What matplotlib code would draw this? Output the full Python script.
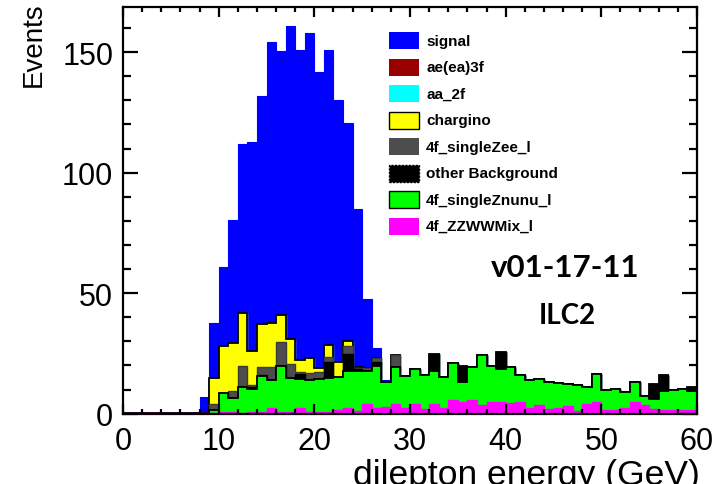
import numpy as np
import matplotlib
matplotlib.use("Agg")
import matplotlib.pyplot as plt
from matplotlib.patches import Rectangle
from matplotlib.ticker import MultipleLocator

plt.rcParams["font.family"] = ["Liberation Sans", "DejaVu Sans"]

# 1 GeV bins from 0 to 60 GeV
bin_edges = np.linspace(0, 60, 61)

signal = [0, 0, 0, 0, 0, 0, 0, 0,
          6.8, 23.0, 32.7, 51.3, 70.4, 86.7, 94.8, 116.4, 109.6, 130.0,
          128.7, 134.8, 122.7, 122.5, 108.7, 90.6, 65.3, 28.9, 4.3, 0.8,
          0, 0, 0, 0, 0, 0, 0, 0, 0, 0, 0, 0, 0, 0, 0, 0, 0, 0, 0, 0,
          0, 0, 0, 0, 0, 0, 0, 0, 0, 0, 0, 0]

ae_ea_3f = [0] * 60
aa_2f = [0] * 60

chargino = [0, 0, 0, 0, 0, 0, 0, 0, 0,
            10.8, 19.8, 19.9, 21.7, 14.2, 18.0, 18.2, 11.0, 10.4, 4.9,
            6.3, 1.9, 5.0, 6.1, 2.0, 0.5,
            0, 0, 0, 0, 0, 0, 0, 0, 0, 0, 0, 0, 0, 0, 0, 0, 0, 0, 0, 0,
            0, 0, 0, 0, 0, 0, 0, 0, 0, 0, 0, 0, 0, 0, 0]

single_zee = [0, 0, 0, 0, 0, 0, 0, 0, 0,
              2.5, 0, 2.7, 9.0, 0.9, 3.2, 5.6, 10.0, 5.8, 1.1, 2.9,
              2.8, 2.1, 0, 3.3, 0.4, 1.2, 1.4, 0, 5.1,
              0, 0, 0, 0, 0, 0, 0, 0, 0, 0, 0, 0, 0, 0, 0, 0,
              0, 0, 0, 0, 0, 0, 0, 0, 0, 0, 0, 0, 0, 0, 0]

other_bkg = [0, 0, 0, 0, 0, 0, 0, 0, 0, 0, 0, 0, 0,
             0.8, 0.5, 0, 0, 0, 1.9, 0, 0, 6.5, 0, 6.9, 0.8, 0, 1.7,
             0, 0, 0, 0, 0, 7.2, 0, 0, 6.6, 0, 0, 0, 7.1,
             0, 0, 0, 0, 0, 0, 0, 0, 0, 0, 0, 0, 0, 0, 0,
             6.4, 6.5, 0, 0, 1.7]

single_znunu = [0, 0, 0, 0, 0, 0, 0, 0, 0,
                1.1, 7.9, 6.1, 10.5, 9.7, 15.0, 11.3, 19.4, 14.3, 11.9,
                13.5, 13.6, 14.1, 13.7, 15.6, 16.8, 13.6, 17.7, 10.4, 15.2,
                13.2, 14.5, 14.1, 13.6, 13.0, 15.5, 8.0, 13.8, 20.9, 14.9,
                13.7, 15.0, 11.4, 11.3, 10.8, 11.2, 10.4, 9.3, 10.5, 6.7,
                11.8, 8.4, 8.7, 6.6, 8.5, 3.7, 4.1, 7.9, 8.3, 8.7, 7.9]

zzww_mix = [0.3, 0.3, 0.3, 0.3, 0.3, 0.3, 0.3, 0.3, 0.3,
            0.4, 0.5, 0.5, 0.4, 0.5, 0.5, 2.5, 0.5, 0.5, 2.5, 0.5,
            0.8, 0.8, 1.5, 2.2, 1.0, 4.0, 2.2, 2.6, 4.0, 2.5,
            4.0, 1.8, 4.0, 2.2, 5.7, 5.0, 5.7, 3.5, 5.0, 5.0,
            4.5, 4.8, 2.5, 3.8, 1.8, 2.2, 3.0, 1.2, 4.2, 4.8,
            1.6, 1.6, 2.5, 4.8, 3.8, 2.0, 1.6, 1.6, 1.6, 1.6]

labels = ["4f_ZZWWMix_l", "4f_singleZnunu_l", "other Background",
          "4f_singleZee_l", "chargino", "aa_2f", "ae(ea)3f", "signal"]
series = [zzww_mix, single_znunu, other_bkg, single_zee,
          chargino, aa_2f, ae_ea_3f, signal]
fill_colors = ["#ff00ff", "#00ff00", "#000000", "#4d4d4d",
               "#ffff00", "#00ffff", "#990000", "#0000ff"]
line_colors = ["#ff00ff", "#000000", "#000000", "#3a3a3a",
               "#000000", "#00ffff", "#990000", "#0000ff"]
line_widths = [1.0, 1.3, 1.0, 1.0, 1.3, 1.0, 1.0, 0.8]

W, H = 715, 485
fig = plt.figure(figsize=(W / 100, H / 100), dpi=100)
ax = fig.add_axes([123 / W, 1 - 414.7 / H, 574 / W, 406.4 / H])

# stacked histogram: each layer drawn as cumulative sum, top layer first
cum = np.cumsum(np.array(series, dtype=float), axis=0)
for i in range(len(series) - 1, -1, -1):
    ax.stairs(cum[i], bin_edges, baseline=0, fill=True,
              color=fill_colors[i], linewidth=0)
    ax.stairs(cum[i], bin_edges, baseline=None, fill=False,
              color=line_colors[i], linewidth=line_widths[i])

ax.set_xlim(0, 60)
ax.set_ylim(0, 168.6)

ax.xaxis.set_major_locator(MultipleLocator(10))
ax.xaxis.set_minor_locator(MultipleLocator(2))
ax.yaxis.set_major_locator(MultipleLocator(50))
ax.yaxis.set_minor_locator(MultipleLocator(10))

ax.tick_params(axis="both", which="both", direction="in",
               top=True, right=True, width=1.6, colors="black")
ax.tick_params(axis="x", which="major", length=7.5, labelsize=22, pad=9)
ax.tick_params(axis="x", which="minor", length=3.8)
ax.tick_params(axis="y", which="major", length=11, labelsize=22, pad=7)
ax.tick_params(axis="y", which="minor", length=6)
for s in ax.spines.values():
    s.set_linewidth(1.6)

ax.set_xlabel("dilepton energy (GeV)", fontsize=25.5, loc="right")
ax.xaxis.set_label_coords(1.005, -0.108)
ax.set_ylabel("Events", fontsize=20, loc="top")
ax.yaxis.set_label_coords(-0.132, 1.015)

# legend, top entry first
def fx(px):
    return px / W

def fy(py):
    return 1 - py / H

entry_y0 = 41.7
entry_dy = 26.5
box_w, box_h = 30, 17
for k, idx in enumerate(range(len(series) - 1, -1, -1)):
    cy = entry_y0 + k * entry_dy
    name = labels[idx]
    edge = "none"
    ls = "solid"
    if name in ("chargino", "4f_singleZnunu_l"):
        edge = "black"
    if name == "other Background":
        edge = "black"
        ls = (0, (1.5, 1.0))
    rect = Rectangle((fx(389), fy(cy + box_h / 2)), box_w / W, box_h / H,
                     transform=fig.transFigure, facecolor=fill_colors[idx],
                     edgecolor=edge, linewidth=1.0, linestyle=ls)
    fig.patches.append(rect)
    fig.text(fx(426), fy(cy), name, fontsize=11, fontweight="bold",
             ha="left", va="center")

fig.text(fx(565), fy(268), "v01-17-11", fontsize=22.5, fontweight="bold",
         family="Lato", ha="center", va="center")
fig.text(fx(567), fy(316), "ILC2", fontsize=20, fontweight="bold",
         family="Lato", ha="center", va="center")

fig.savefig("out.png", dpi=100)
